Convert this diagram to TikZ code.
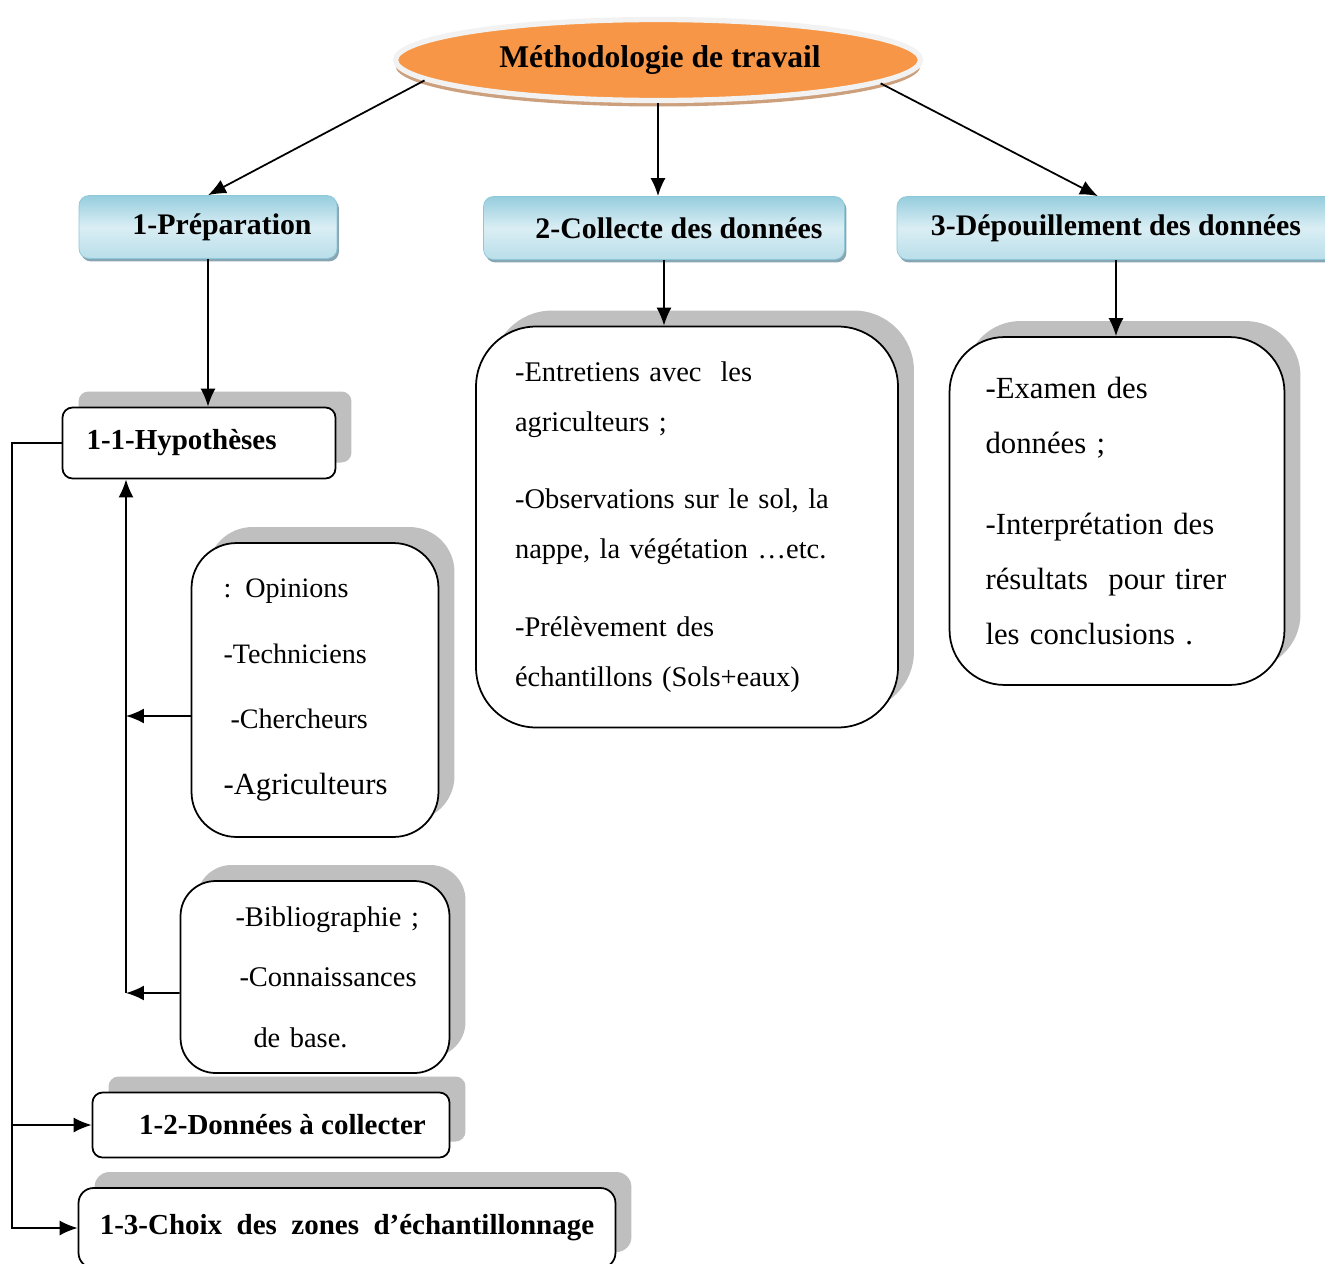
\documentclass[tikz,border=0pt]{standalone}
\usepackage{fontspec}
\setmainfont{Liberation Serif}
\usetikzlibrary{arrows.meta, shapes.geometric, shadows}
\definecolor{orangetitre}{RGB}{247,150,70}
\definecolor{bordtitre}{RGB}{242,242,242}
\definecolor{ombretitre}{RGB}{205,160,125}
\definecolor{bleuhaut}{RGB}{150,205,222}
\definecolor{bleumilieu}{RGB}{218,238,244}
\definecolor{bleubas}{RGB}{185,222,233}
\definecolor{bordbleu}{RGB}{140,200,216}
\definecolor{ombrebleue}{RGB}{135,165,178}
\definecolor{ombregrise}{RGB}{191,191,191}
\tikzstyle{titre} = [ellipse, minimum width=10.5cm, minimum height=1.62cm,
    fill=orangetitre, draw=bordtitre, line width=3pt,
    general shadow={fill=ombretitre, shadow yshift=-0.12cm},
    font=\fontsize{18}{20}\selectfont\bfseries]
\tikzstyle{phase} = [rectangle, rounded corners=0.2cm, minimum height=1.26cm,
    draw=bordbleu, top color=bleuhaut, bottom color=bleubas, middle color=bleumilieu,
    general shadow={fill=ombrebleue, shadow xshift=0.04cm, shadow yshift=-0.06cm},
    font=\fontsize{17}{20}\selectfont\bfseries]
\tikzstyle{bloc}  = [rectangle, draw=black, line width=1pt, fill=white, align=left,
    general shadow={fill=ombregrise, shadow xshift=0.32cm, shadow yshift=0.32cm}]
\tikzstyle{arrow} = [line width=1pt, -{Latex[length=0.36cm, width=0.3cm]}]

\begin{document}
\begin{tikzpicture}[x=0.02cm, y=-0.02cm]
    \useasboundingbox (0,0) rectangle (1325,1264);
    \node (titre) [titre] at (658,60) {\hspace*{0.08cm}Méthodologie de travail};

    \node (prep)  [phase, minimum width=5.16cm] at (208,227)  {\hspace*{0.56cm}1-Préparation};
    \node (collh) [phase, minimum width=7.22cm] at (664,228)  {\hspace*{0.6cm}2-Collecte des données};
    \node (deph)  [phase, minimum width=8.76cm] at (1116,228) {3-Dépouillement des données};

    \node (hyp)   [bloc, rounded corners=0.2cm, minimum width=5.46cm, minimum height=1.42cm,
        text width=4.5cm, inner xsep=0.48cm, font=\fontsize{16.5}{20}\selectfont\bfseries]
        at (199,443) {1-1-Hypothèses};
    \node (opin)  [bloc, rounded corners=0.9cm, minimum height=5.88cm, text width=3.66cm,
        inner xsep=0.64cm, font=\fontsize{16}{37.5}\selectfont]
        at (315,690) {: Opinions\\-Techniciens\\\hspace*{0.14cm}-Chercheurs\\{\fontsize{17.5}{37.5}\selectfont -Agriculteurs}};
    \node (bib)   [bloc, rounded corners=0.7cm, minimum height=3.84cm, text width=4.58cm,
        inner xsep=0.4cm, font=\fontsize{16.2}{34.4}\selectfont]
        at (315,977) {\hspace*{0.7cm}-Bibliographie ;\\\hspace*{0.78cm}-Connaissances\\\hspace*{1.06cm}de base.};
    \node (collb) [bloc, rounded corners=1.2cm, minimum height=8.02cm, text width=6.88cm,
        inner xsep=0.78cm, font=\fontsize{16.2}{28.4}\selectfont]
        at (687,527) {-Entretiens avec\ \ les\\agriculteurs ;\\[15.9pt]-Observations sur le sol, la\\nappe, la végétation …etc.\\[15.9pt]-Prélèvement des\\échantillons (Sols+eaux)};
    \node (depb)  [bloc, rounded corners=1.1cm, minimum height=6.96cm, text width=5.26cm,
        inner xsep=0.72cm, font=\fontsize{17.5}{31.3}\selectfont]
        at (1117,511) {-Examen des\\données ;\\[15.3pt]-Interprétation des\\résultats\ \ pour tirer\\les conclusions .};
    \node (d12)   [bloc, rounded corners=0.2cm, minimum width=7.14cm, minimum height=1.3cm,
        font=\fontsize{16.5}{20}\selectfont\bfseries]
        at (271,1125) {\hspace*{0.46cm}1-2-Données à collecter};
    \node (d13)   [bloc, rounded corners=0.3cm, minimum width=10.74cm, minimum height=1.6cm,
        font=\fontsize{16.5}{20}\selectfont\bfseries]
        at (347,1228) {1-3-Choix\ \ des\ \ zones\ \ d’échantillonnage};

    \draw [arrow] (titre.185)   -- (prep.north);
    \draw [arrow] (titre.south) -- (titre.south |- collh.north);
    \draw [arrow] (titre.-6)    -- ([xshift=-0.36cm]deph.north);
    \draw [arrow] (prep.south)  -- (prep.south |- hyp.north);
    \draw [arrow] (collh.south) -- (collh.south |- collb.north);
    \draw [arrow] (deph.south)  -- (deph.south |- depb.north);

    \coordinate (tronc) at (126,993);
    \draw [arrow] (tronc) -- (tronc |- hyp.south);
    \draw [arrow] ([yshift=-0.52cm]opin.west) -- ([yshift=-0.52cm]opin.west -| tronc);
    \draw [arrow] ([yshift=-0.32cm]bib.west)  -- (tronc);
    \draw [arrow] (hyp.west) -- ++(-50,0) |- (d12.west);
    \draw [arrow] (hyp.west) -- ++(-50,0) |- (d13.west);
\end{tikzpicture}
\end{document}
